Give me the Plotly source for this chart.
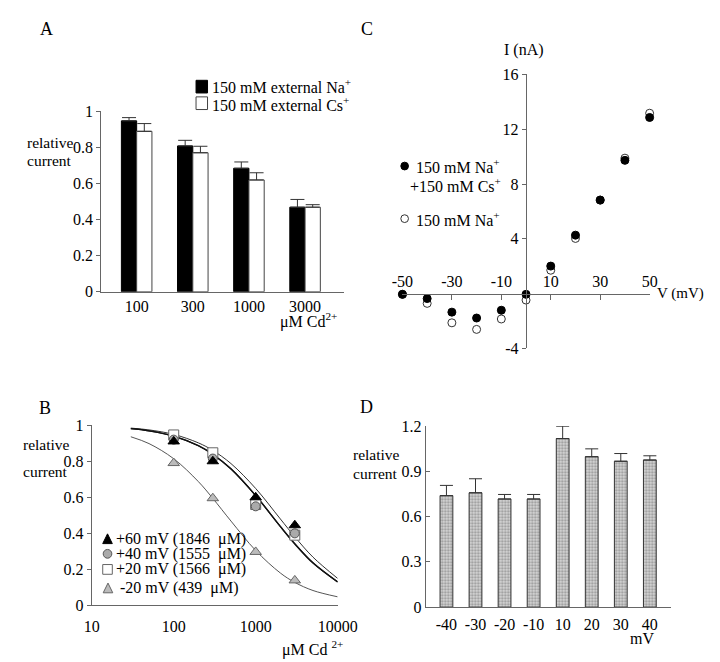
import plotly.graph_objects as go

W, H = 720, 662
FONT = "Liberation Serif"
TICK = 16
TXT = 16
AX = "#666666"

# ---------------- Panel A data ----------------
a_conc = ["100", "300", "1000", "3000"]
a_na = [0.948, 0.809, 0.685, 0.469]
a_na_err = [0.018, 0.031, 0.035, 0.043]
a_cs = [0.890, 0.771, 0.620, 0.469]
a_cs_err = [0.043, 0.036, 0.040, 0.014]
a_yticks = [0, 0.2, 0.4, 0.6, 0.8, 1]

# ---------------- Panel B data ----------------
b_conc = [100, 300, 1000, 3000]
b_p60 = [0.910, 0.800, 0.600, 0.445]
b_p40 = [0.920, 0.815, 0.550, 0.400]
b_p20 = [0.946, 0.847, 0.560, 0.390]
b_m20 = [0.790, 0.595, 0.297, 0.139]
b_fit_conc = [30, 50, 100, 200, 300, 500, 1000, 2000, 3000, 5000, 10000]
b_fit_60 = [0.984, 0.974, 0.949, 0.902, 0.860, 0.787, 0.649, 0.480, 0.381, 0.268, 0.150]
b_fit_40 = [0.981, 0.969, 0.940, 0.886, 0.838, 0.757, 0.609, 0.437, 0.341, 0.235, 0.130]
b_fit_20 = [0.981, 0.969, 0.940, 0.887, 0.839, 0.758, 0.610, 0.439, 0.343, 0.237, 0.131]
b_fit_m20 = [0.936, 0.898, 0.814, 0.687, 0.594, 0.468, 0.305, 0.180, 0.128, 0.083, 0.048]
b_ticks = [10, 100, 1000, 10000]
b_ticktext = ["10", "100", "1000", "10000"]
b_yticks = [0, 0.2, 0.4, 0.6, 0.8, 1]

# ---------------- Panel C data ----------------
c_v = [-50, -40, -30, -20, -10, 0, 10, 20, 30, 40, 50]
c_na_cs = [-0.05, -0.36, -1.35, -1.78, -1.21, -0.05, 2.01, 4.27, 6.83, 9.73, 12.86]
c_na = [-0.05, -0.71, -2.13, -2.61, -1.85, -0.47, 1.71, 4.03, 6.83, 9.89, 13.17]
c_xticks = [-50, -30, -10, 10, 30, 50]
c_xticktext = ["-50", "-30", "-10", "10", "30", "50"]
c_yticks = [-4, 4, 8, 12, 16]
c_yticktext = ["-4", "4", "8", "12", "16"]

# ---------------- Panel D data ----------------
d_mv = ["-40", "-30", "-20", "-10", "10", "20", "30", "40"]
d_val = [0.738, 0.757, 0.716, 0.716, 1.116, 0.996, 0.966, 0.974]
d_err = [0.068, 0.093, 0.030, 0.030, 0.082, 0.052, 0.051, 0.028]
d_yticks = [0, 0.3, 0.6, 0.9, 1.2]


def px(x):
    return x / W


def py(y):
    return 1 - y / H


fig = go.Figure()

# Panel A bars
fig.add_trace(go.Bar(
    x=a_conc, y=a_na, width=0.272, offset=-0.272, xaxis="x", yaxis="y",
    marker=dict(color="black", line=dict(color="black", width=1)),
    error_y=dict(type="data", symmetric=False, array=a_na_err, arrayminus=[0] * 4,
                 color="#333", thickness=1, width=7),
    showlegend=False))
fig.add_trace(go.Bar(
    x=a_conc, y=a_cs, width=0.272, offset=0, xaxis="x", yaxis="y",
    marker=dict(color="white", line=dict(color="#444", width=1)),
    error_y=dict(type="data", symmetric=False, array=a_cs_err, arrayminus=[0] * 4,
                 color="#333", thickness=1, width=7),
    showlegend=False))

# Panel B fitted curves
fig.add_trace(go.Scatter(x=b_fit_conc, y=b_fit_60, mode="lines", line=dict(color="#333", width=1, shape="spline"),
                         xaxis="x2", yaxis="y2", showlegend=False))
fig.add_trace(go.Scatter(x=b_fit_conc, y=b_fit_40, mode="lines", line=dict(color="#111", width=1.3, shape="spline"),
                         xaxis="x2", yaxis="y2", showlegend=False))
fig.add_trace(go.Scatter(x=b_fit_conc, y=b_fit_20, mode="lines", line=dict(color="#111", width=1.3, shape="spline"),
                         xaxis="x2", yaxis="y2", showlegend=False))
fig.add_trace(go.Scatter(x=b_fit_conc, y=b_fit_m20, mode="lines", line=dict(color="#555", width=1, shape="spline"),
                         xaxis="x2", yaxis="y2", showlegend=False))
# Panel B points
fig.add_trace(go.Scatter(x=b_conc, y=b_p20, mode="markers", xaxis="x2", yaxis="y2", showlegend=False,
                         marker=dict(symbol="square", size=10, color="white", line=dict(color="#666", width=1))))
fig.add_trace(go.Scatter(x=b_conc, y=b_p40, mode="markers", xaxis="x2", yaxis="y2", showlegend=False,
                         marker=dict(symbol="circle", size=9, color="#aaa", line=dict(color="#555", width=1))))
fig.add_trace(go.Scatter(x=b_conc, y=b_p60, mode="markers", xaxis="x2", yaxis="y2", showlegend=False,
                         marker=dict(symbol="triangle-up", size=10, color="black", line=dict(color="black", width=1))))
fig.add_trace(go.Scatter(x=b_conc, y=b_m20, mode="markers", xaxis="x2", yaxis="y2", showlegend=False,
                         marker=dict(symbol="triangle-up", size=10, color="#bbb", line=dict(color="#666", width=1))))

# Panel C points
fig.add_trace(go.Scatter(x=c_v, y=c_na, mode="markers", xaxis="x3", yaxis="y3", showlegend=False, cliponaxis=False,
                         marker=dict(symbol="circle", size=8, color="white", line=dict(color="#333", width=1))))
fig.add_trace(go.Scatter(x=c_v, y=c_na_cs, mode="markers", xaxis="x3", yaxis="y3", showlegend=False, cliponaxis=False,
                         marker=dict(symbol="circle", size=8, color="black", line=dict(color="black", width=1))))

# Panel D bars
fig.add_trace(go.Bar(
    x=d_mv, y=d_val, width=0.44, xaxis="x4", yaxis="y4", showlegend=False,
    marker=dict(color="#b0b0b0", line=dict(color="#333", width=1),
                pattern=dict(shape=".", fgcolor="#555", bgcolor="#d8d8d8", size=3, solidity=0.45)),
    error_y=dict(type="data", symmetric=False, array=d_err, arrayminus=[0] * 8,
                 color="#333", thickness=1, width=6.5)))

tickfont = dict(family=FONT, size=TICK, color="black")
base_ax = dict(showline=True, linecolor=AX, linewidth=1, showgrid=False, zeroline=False,
               tickcolor=AX, tickfont=tickfont, fixedrange=True)

fig.update_layout(
    width=W, height=H, margin=dict(l=0, r=0, t=0, b=0),
    paper_bgcolor="white", plot_bgcolor="rgba(0,0,0,0)",
    barmode="overlay", showlegend=False,
    font=dict(family=FONT, color="black"),
    xaxis=dict(base_ax, domain=[px(86), px(340)], anchor="y", type="category",
               range=[-0.63, 3.70], ticks="", ticklabelstandoff=0),
    yaxis=dict(base_ax, domain=[py(283), py(98)], anchor="x", range=[0, 1],
               tickvals=a_yticks, ticks="outside", ticklen=4),
    xaxis2=dict(base_ax, domain=[px(76), px(333)], anchor="y2", type="log", range=[1, 4],
                tickvals=b_ticks, ticktext=b_ticktext, ticks="", ticklabelstandoff=6),
    yaxis2=dict(base_ax, domain=[py(605), py(420)], anchor="x2", range=[0, 1],
                tickvals=b_yticks, ticks="outside", ticklen=4),
    xaxis3=dict(base_ax, domain=[px(400.7), px(659)], anchor="free", position=py(285), side="top",
                range=[-50, 50], tickvals=c_xticks, ticktext=c_xticktext, ticks="inside", ticklen=5),
    yaxis3=dict(base_ax, domain=[py(341.2), py(60)], anchor="free", position=px(529.5),
                range=[-4, 16], tickvals=c_yticks, ticktext=c_yticktext, ticks="outside", ticklen=4),
    xaxis4=dict(base_ax, domain=[px(425), px(681.7)], anchor="y4", type="category",
                range=[-0.714, 7.74], ticks="", ticklabelstandoff=3),
    yaxis4=dict(base_ax, domain=[py(606.7), py(420.7)], anchor="x4", range=[0, 1.2],
                tickvals=d_yticks, ticks="inside", ticklen=4),
)


def ann(text, x, y, xanchor="left", size=TXT):
    fig.add_annotation(text=text, x=px(x), y=py(y), xref="paper", yref="paper",
                       xanchor=xanchor, yanchor="middle", showarrow=False,
                       font=dict(family=FONT, size=size, color="black"))


# Panel labels
ann("A", 29, 13, "center", 18)
ann("C", 364, 13, "center", 18)
ann("B", 27, 402, "center", 18)
ann("D", 363, 401, "center", 18)

# Axis titles
ann("relative", 6, 130, size=15.5)
ann("current", 6, 148, size=15.5)
ann("μM Cd<sup>2+</sup>", 271, 313)
ann("relative", 2, 440, size=15.5)
ann("current", 2, 467, size=15.5)
ann("μM Cd <sup>2+</sup>", 273, 649)
ann("I (nA)", 528, 35, "center")
ann("V (mV)", 718, 285, "right", 15)
ann("relative", 347, 450, size=15.5)
ann("current", 347, 470, size=15.5)
ann("mV", 651, 639, "center")

# Legend A
ann("150 mM external Na<sup>+</sup>", 200, 72)
ann("150 mM external Cs<sup>+</sup>", 200, 90)
fig.add_shape(type="rect", xref="paper", yref="paper", x0=px(185), x1=px(197), y0=py(79), y1=py(66),
              fillcolor="black", line=dict(color="black", width=1))
fig.add_shape(type="rect", xref="paper", yref="paper", x0=px(185), x1=px(197), y0=py(96), y1=py(83),
              fillcolor="white", line=dict(color="#444", width=1))

# Legend B
ann("+60 mV (1846 \u00a0μM)", 99, 536.5)
ann("+40 mV (1555 \u00a0μM)", 99, 552)
ann("+20 mV (1566 \u00a0μM)", 99, 568)
ann(" -20 mV (439 \u00a0μM)", 99, 587)


def tri(cx, cy, s, fill, line):
    path = "M {} {} L {} {} L {} {} Z".format(px(cx - s / 2), py(cy + s / 2), px(cx + s / 2), py(cy + s / 2),
                                              px(cx), py(cy - s / 2))
    fig.add_shape(type="path", xref="paper", yref="paper", path=path, fillcolor=fill,
                  line=dict(color=line, width=1))


tri(92.5, 536.5, 10, "black", "black")
fig.add_shape(type="circle", xref="paper", yref="paper", x0=px(88), x1=px(97), y0=py(556.5), y1=py(547.5),
              fillcolor="#aaa", line=dict(color="#555", width=1))
fig.add_shape(type="rect", xref="paper", yref="paper", x0=px(87.5), x1=px(97.5), y0=py(573), y1=py(563),
              fillcolor="white", line=dict(color="#666", width=1))
tri(93, 587, 10, "#bbb", "#666")

# Legend C
ann("150 mM Na<sup>+</sup>", 413, 154)
ann("+150 mM Cs<sup>+</sup>", 406, 173)
ann("150 mM Na<sup>+</sup>", 413, 208)
fig.add_shape(type="circle", xref="paper", yref="paper", x0=px(399), x1=px(407), y0=py(158), y1=py(150),
              fillcolor="black", line=dict(color="black", width=1))
fig.add_shape(type="circle", xref="paper", yref="paper", x0=px(399), x1=px(407), y0=py(212), y1=py(204),
              fillcolor="white", line=dict(color="#333", width=1))

fig.write_html("out.html")
